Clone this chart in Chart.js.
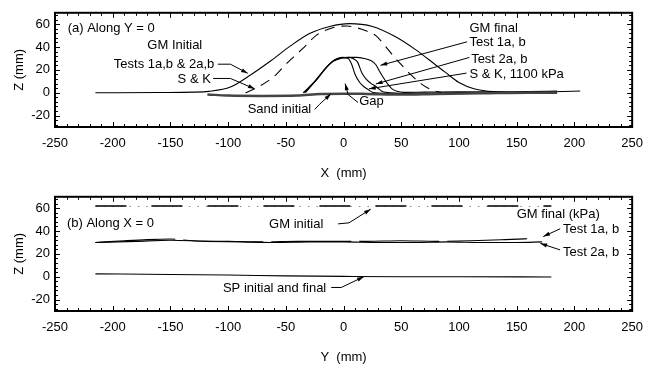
<!DOCTYPE html>
<html lang="en">
<head>
<meta charset="UTF-8">
<title>GM profiles</title>
<script src="https://cdn.jsdelivr.net/npm/chart.js"></script>
<style>
  body { margin: 0; background: #fff; }
  .panel { position: absolute; left: 0; width: 652px; height: 184px; }
</style>
</head>
<body>
<div class="panel" style="top:0"><canvas id="alongY"></canvas></div>
<div class="panel" style="top:184px"><canvas id="alongX"></canvas></div>
<script>
// tick labels
const xTicks = [-250, -200, -150, -100, -50, 0, 50, 100, 150, 200, 250];
const zTicks = [-20, 0, 20, 40, 60];

// (a) along Y = 0
const gmInitTestX = [-215, -160, -130, -117, -98, -80, -63, -46, -29, -12, 5, 25, 45, 62, 79, 88, 100, 113, 130, 160, 205];
const gmInitTestZ = [0, 0.2, 0.5, 1.2, 5, 16, 28, 41, 52, 58, 60.5, 58, 49, 38, 25, 18, 9, 3.5, 1, 0.5, 1.5];
const gmInitSkX = [-85, -78, -65, -58, -49, -41, -35, -24, -15, -6, 3, 11, 20, 28, 36, 45, 51, 58, 67, 76, 85];
const gmInitSkZ = [0, 3, 10.6, 16.3, 26, 33.5, 39, 50, 55, 57.8, 58.5, 57, 54, 50, 41, 30, 23.5, 16, 8, 2.6, 0];
const gmFinalT1X = [-34, -24, -15, -9, -1, 6, 11, 18, 24, 28, 31, 34, 38, 42, 47, 52, 70, 100, 130, 160, 185];
const gmFinalT1Z = [0, 10.5, 22, 27.5, 30.5, 31, 31, 30, 28, 24.5, 19, 14, 8, 3.4, 1, 0.3, 0.5, 0.8, 0.5, 1, 1.5];
const gmFinalT2X = [-35, -25, -16, -10, -2, 5, 9, 12, 16, 20, 24, 28, 31, 34, 40, 60, 90, 120, 150, 180];
const gmFinalT2Z = [0, 10, 21, 27, 30.5, 31, 29.5, 27, 17, 11.5, 8, 5.5, 3, 0.8, 0, -0.5, 0, 0.5, 0.3, 0.8];
const gmFinalSkX = [-33, -24, -15, -9, -1, 4, 7, 10, 14, 18, 21, 25, 40, 60];
const gmFinalSkZ = [0, 11, 22, 28, 31, 30, 25, 16, 9, 5, 3, 0.5, -0.5, -1];
const sandInitX = [-118, -100, -70, -40, -20, 0, 20, 50, 80, 120, 160, 185];
const sandInitZ = [-1.5, -2.5, -2.8, -2.5, -1, -0.8, -1, -1.5, -1, -0.5, 0, 0];

// (b) along X = 0
const gmInitYX = [-215, -100, 0, 100, 180];
const gmInitYZ = [62, 62, 62, 62, 62];
const gmFinalYX = [-215, -100, 0, 100, 180];
const gmFinalYZ = [61.5, 61.5, 61.5, 61.5, 61.5];
const test1YX = [-215, -190, -170, -150, -130, -100, -70, -40, -10, 20, 50, 80, 110, 140, 165];
const test1YZ = [30, 31.5, 32.5, 33, 31.5, 31, 30.5, 31, 31, 31, 31.5, 31, 31.5, 32.5, 33.5];
const test2YX = [-215, -180, -150, -120, -90, -60, -30, 0, 30, 60, 90, 120, 150, 172];
const test2YZ = [30, 31, 32, 31, 30.5, 30, 30.5, 30.5, 30, 30, 30.5, 30, 30, 30.5];
const spYX = [-215, -150, -100, -50, 0, 50, 100, 180];
const spYZ = [2.5, 2, 1.5, 0.8, 0.3, 0, 0, -0.2];

// labels, placed in data units
const notesA = [
  { text: '(a) Along Y = 0', x: -239, y: 56, align: 'left' },
  { text: 'GM Initial', x: -170, y: 41, align: 'left' },
  { text: 'Tests 1a,b & 2a,b', x: -112, y: 25, align: 'right', arrow: [[-109, 25], [-98, 25], [-83, 17]] },
  { text: 'S & K', x: -115, y: 11.5, align: 'right', arrow: [[-113, 12.5], [-98, 12.5], [-77, 3.4]] },
  { text: 'Sand initial', x: -28, y: -14.6, align: 'right', arrow: [[-25, -14.6], [-21, -10.3], [-11, -1]] },
  { text: 'Gap', x: 13.5, y: -7.7, align: 'left', arrow: [[12.5, -8.5], [4, -1.7], [1.3, 8]] },
  { text: 'GM final', x: 109, y: 56.6, align: 'left' },
  { text: 'Test 1a, b', x: 109, y: 43.8, align: 'left', arrow: [[107, 44.6], [32, 24]] },
  { text: 'Test 2a, b', x: 110.5, y: 29.2, align: 'left', arrow: [[109, 30.9], [28, 7.7]] },
  { text: 'S & K, 1100 kPa', x: 109, y: 16.3, align: 'left', arrow: [[106.5, 17.2], [22, 3.4]] }
];
const notesB = [
  { text: '(b) Along X = 0', x: -239.7, y: 46.3, align: 'left' },
  { text: 'GM initial', x: -64.5, y: 45.5, align: 'left', arrow: [[-4.7, 46.3], [4.7, 47.2], [23.5, 59.2]] },
  { text: 'GM final (kPa)', x: 150, y: 54.9, align: 'left' },
  { text: 'Test 1a, b', x: 190, y: 41.2, align: 'left', arrow: [[187.6, 42], [173, 35.2]] },
  { text: 'Test 2a, b', x: 190, y: 21.5, align: 'left', arrow: [[187.6, 23.5], [170.5, 29.2]] },
  { text: 'SP initial and final', x: -15, y: -10.3, align: 'right', arrow: [[-10.7, -9.4], [-2, -9.4], [17.5, 0]] }
];

const FONT = '"Liberation Sans", Arial, Helvetica, sans-serif';

function pts(xs, zs) {
  return xs.map((x, i) => ({ x: x, y: zs[i] }));
}

function line(xs, zs, extra) {
  return Object.assign({
    data: pts(xs, zs),
    showLine: true,
    pointRadius: 0,
    borderColor: '#000',
    borderWidth: 1.1,
    cubicInterpolationMode: 'monotone'
  }, extra || {});
}

// box with inward ticks on all four sides
const frame = {
  id: 'frame',
  afterDraw(chart) {
    const { ctx, chartArea: a, scales: { x, y } } = chart;
    ctx.save();
    ctx.strokeStyle = '#000';
    ctx.lineWidth = 1;
    ctx.beginPath();
    for (let v = -250; v <= 250; v += 10) {
      const px = Math.round(x.getPixelForValue(v)) + 0.5;
      const len = v % 50 === 0 ? 5 : 3;
      ctx.moveTo(px, a.bottom); ctx.lineTo(px, a.bottom - len);
      ctx.moveTo(px, a.top); ctx.lineTo(px, a.top + len);
    }
    for (let v = -28; v <= 70; v += 4) {
      const py = Math.round(y.getPixelForValue(v)) + 0.5;
      const len = v % 20 === 0 ? 5 : 3;
      ctx.moveTo(a.left, py); ctx.lineTo(a.left + len, py);
      ctx.moveTo(a.right, py); ctx.lineTo(a.right - len, py);
    }
    ctx.stroke();
    ctx.lineWidth = 2;
    ctx.strokeRect(a.left, a.top, a.right - a.left, a.bottom - a.top);
    ctx.restore();
  }
};

function notesPlugin(list) {
  return {
    id: 'notes',
    afterDatasetsDraw(chart) {
      const { ctx, scales: { x, y } } = chart;
      ctx.save();
      ctx.font = '13px ' + FONT;
      ctx.fillStyle = '#000';
      ctx.strokeStyle = '#000';
      ctx.lineWidth = 1;
      ctx.textBaseline = 'middle';
      list.forEach(n => {
        ctx.textAlign = n.align;
        ctx.fillText(n.text, x.getPixelForValue(n.x), y.getPixelForValue(n.y));
        if (!n.arrow) return;
        const p = n.arrow.map(q => [x.getPixelForValue(q[0]), y.getPixelForValue(q[1])]);
        ctx.beginPath();
        ctx.moveTo(p[0][0], p[0][1]);
        for (let i = 1; i < p.length; i++) ctx.lineTo(p[i][0], p[i][1]);
        ctx.stroke();
        const [x1, y1] = p[p.length - 2];
        const [x2, y2] = p[p.length - 1];
        const ang = Math.atan2(y2 - y1, x2 - x1);
        ctx.beginPath();
        ctx.moveTo(x2, y2);
        ctx.lineTo(x2 - 7 * Math.cos(ang - 0.3), y2 - 7 * Math.sin(ang - 0.3));
        ctx.lineTo(x2 - 7 * Math.cos(ang + 0.3), y2 - 7 * Math.sin(ang + 0.3));
        ctx.closePath();
        ctx.fill();
      });
      ctx.restore();
    }
  };
}

function makeChart(id, datasets, notes, xTitle) {
  return new Chart(document.getElementById(id), {
    type: 'scatter',
    data: { datasets: datasets },
    options: {
      responsive: true,
      maintainAspectRatio: false,
      animation: false,
      layout: { padding: { left: 0, right: 12, top: 10, bottom: 0 } },
      plugins: { legend: { display: false }, tooltip: { enabled: false } },
      scales: {
        x: {
          type: 'linear', min: -250, max: 250,
          afterBuildTicks: s => { s.ticks = xTicks.map(v => ({ value: v })); },
          afterFit: s => { s.height = 57; },
          grid: { display: false, drawTicks: false },
          border: { display: false },
          ticks: { padding: 9, color: '#000', autoSkip: false, maxRotation: 0, font: { size: 13, family: FONT } },
          title: { display: true, text: xTitle, color: '#000', font: { size: 13, family: FONT }, padding: { top: 0, bottom: 3 } }
        },
        y: {
          type: 'linear', min: -30, max: 70,
          afterBuildTicks: s => { s.ticks = zTicks.map(v => ({ value: v })); },
          afterFit: s => { s.width = 55; },
          grid: { display: false, drawTicks: false },
          border: { display: false },
          ticks: { padding: 5, color: '#000', font: { size: 13, family: FONT } },
          title: { display: true, text: 'Z (mm)', color: '#000', font: { size: 13, family: FONT }, padding: { top: 12, bottom: 0 } }
        }
      }
    },
    plugins: [frame, notesPlugin(notes)]
  });
}

makeChart('alongY', [
  line(sandInitX, sandInitZ, { borderWidth: 2.5, borderColor: '#444' }),
  line(gmInitTestX, gmInitTestZ),
  line(gmInitSkX, gmInitSkZ, { borderDash: [10, 7] }),
  line(gmFinalT1X, gmFinalT1Z),
  line(gmFinalT2X, gmFinalT2Z),
  line(gmFinalSkX, gmFinalSkZ)
], notesA, 'X  (mm)');

makeChart('alongX', [
  line(gmInitYX, gmInitYZ, { borderWidth: 1.6, borderDash: [31, 25] }),
  line(gmFinalYX, gmFinalYZ, { borderColor: '#888', borderDash: [1.5, 7], borderDashOffset: -34 }),
  line(test1YX, test1YZ, { borderDash: [80, 8] }),
  line(test2YX, test2YZ),
  line(spYX, spYZ)
], notesB, 'Y  (mm)');
</script>
</body>
</html>
